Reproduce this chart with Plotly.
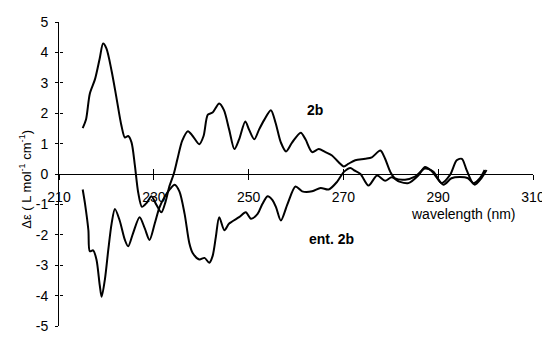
import plotly.graph_objects as go

# ---- data ----
wl_2b = [215.0, 215.7, 216.5, 217.6, 218.6, 219.3, 220.0, 221.1, 222.1, 223.2, 223.9, 224.6, 225.3,
         226.0, 226.7, 227.5, 228.5, 229.5, 230.5, 231.6, 232.5, 233.3, 234.2, 235.0, 236.0, 237.2,
         238.2, 239.6, 240.5, 241.4, 242.4, 243.8, 244.8, 245.9, 247.0, 248.0, 249.3, 250.1, 251.2,
         252.2, 253.3, 254.7, 255.7, 256.8, 257.9, 259.2, 261.0, 262.0, 263.4, 264.8, 266.2, 267.6,
         268.9, 270.1, 271.1, 272.5, 274.6, 276.0, 277.8, 278.8, 279.9, 280.9, 283.0, 285.1, 287.2,
         289.0, 290.7, 292.5, 293.9, 295.0, 296.0, 297.4, 298.8, 299.8]
de_2b = [1.51, 1.79, 2.64, 3.12, 3.81, 4.29, 4.13, 3.39, 2.53, 1.57, 1.20, 1.25, 1.04,
         0.29, -0.60, -1.08, -0.95, -0.73, -1.00, -1.26, -0.90, -0.40, 0.00, 0.50, 1.10, 1.41,
         1.25, 0.98, 1.25, 1.95, 2.02, 2.32, 2.10, 1.46, 0.82, 1.14, 1.73, 1.46, 1.14,
         1.46, 1.78, 2.10, 1.68, 1.04, 0.74, 1.04, 1.36, 1.14, 0.72, 0.82, 0.72, 0.61,
         0.40, 0.25, 0.34, 0.45, 0.50, 0.55, 0.77, 0.50, 0.07, -0.14, -0.19, -0.09, 0.18,
         0.07, -0.30, -0.03, 0.45, 0.50, 0.13, -0.30, -0.14, 0.13]

wl_ent = [215.0, 215.5, 216.2, 216.5, 217.2, 217.9, 218.6, 219.0, 219.7, 220.4, 221.1, 221.8, 222.8,
          223.9, 224.6, 225.6, 227.0, 228.1, 229.1, 230.2, 231.2, 232.3, 233.4, 234.4, 235.4, 236.5,
          237.5, 238.2, 239.6, 240.7, 241.7, 242.4, 243.1, 243.8, 244.9, 245.9, 248.0, 249.4, 250.5,
          251.9, 252.9, 254.0, 255.0, 255.8, 256.8, 258.2, 259.9, 261.3, 263.4, 265.2, 266.9, 268.7,
          270.1, 271.5, 272.2, 273.6, 275.3, 277.1, 278.8, 280.2, 281.8, 283.7, 285.8, 287.2, 288.6,
          291.1, 292.8, 294.5, 296.3, 297.7, 299.1, 300.2]
de_ent = [-0.51, -0.99, -1.85, -2.54, -2.51, -2.81, -3.66, -4.04, -3.45, -2.49, -1.63, -1.15, -1.53,
          -2.17, -2.38, -1.96, -1.42, -1.79, -2.17, -1.63, -1.10, -0.75, -0.50, -0.35, -0.57, -1.31,
          -2.28, -2.60, -2.81, -2.76, -2.92, -2.70, -2.06, -1.42, -1.85, -1.63, -1.42, -1.26, -1.47,
          -1.31, -0.99, -0.73, -0.85, -1.10, -1.53, -0.99, -0.41, -0.57, -0.57, -0.46, -0.51, -0.25,
          0.07, 0.20, 0.13, 0.00, -0.38, -0.05, -0.22, -0.11, -0.25, -0.30, -0.05, 0.23, 0.10,
          -0.35, -0.14, -0.10, -0.14, -0.35, -0.14, 0.13]

x_ticks = [210, 230, 250, 270, 290, 310]
x_tick_labels = ["210", "230", "250", "270", "290", "310"]
y_ticks = [-5, -4, -3, -2, -1, 0, 1, 2, 3, 4, 5]
y_tick_labels = ["-5", "-4", "-3", "-2", "-1", "0", "1", "2", "3", "4", "5"]

FONT = "Liberation Sans, Arial, sans-serif"

fig = go.Figure()
fig.add_trace(go.Scatter(x=wl_2b, y=de_2b, mode="lines", name="2b",
                         line=dict(color="black", width=2, shape="spline", smoothing=0.8)))
fig.add_trace(go.Scatter(x=wl_ent, y=de_ent, mode="lines", name="ent. 2b",
                         line=dict(color="black", width=2, shape="spline", smoothing=0.8)))

# page body has an 8px margin: the figure is sized so that it ends at the window edge
fig.update_layout(
    width=542, height=331,
    margin=dict(l=51, r=15, t=14, b=5),
    paper_bgcolor="white", plot_bgcolor="white",
    showlegend=False,
    font=dict(family=FONT, size=14, color="black"),
    xaxis=dict(range=[210, 310], tickvals=x_ticks, ticktext=x_tick_labels,
               showgrid=False, zeroline=False, showline=True, linecolor="black", linewidth=1,
               ticks="outside", ticklen=5, tickcolor="black", tickwidth=1,
               anchor="free", position=0.5, ticklabelstandoff=5, ticklabeloverflow="allow",
               tickfont=dict(family=FONT, size=14, color="black")),
    xaxis2=dict(range=[210, 310], overlaying="x", matches="x", tickvals=x_ticks[1:],
                showticklabels=False, showgrid=False, zeroline=False, showline=False,
                ticks="inside", ticklen=5, tickcolor="black", tickwidth=1,
                anchor="free", position=0.5),
    yaxis=dict(range=[-5, 5], tickvals=y_ticks, ticktext=y_tick_labels,
               showgrid=False, zeroline=False, showline=True, linecolor="black", linewidth=1,
               ticks="outside", ticklen=3, tickcolor="black", tickwidth=1,
               ticklabelstandoff=4, ticklabeloverflow="allow",
               tickfont=dict(family=FONT, size=14, color="black")),
    yaxis2=dict(range=[-5, 5], overlaying="y", matches="y", tickvals=y_ticks,
                showticklabels=False, showgrid=False, zeroline=False, showline=False,
                ticks="inside", ticklen=3, tickcolor="black", tickwidth=1,
                anchor="free", position=0),
    annotations=[
        dict(x=264.0, y=2.1, xref="x", yref="y", text="<b>2b</b>", showarrow=False,
             font=dict(family=FONT, size=14, color="black")),
        dict(x=267.4, y=-2.15, xref="x", yref="y", text="<b>ent. 2b</b>", showarrow=False,
             font=dict(family=FONT, size=14, color="black")),
        dict(x=295.4, y=-1.31, xref="x", yref="y", text="wavelength (nm)", showarrow=False,
             font=dict(family=FONT, size=14, color="black")),
        dict(x=-0.093, y=-0.16, xref="paper", yref="y", textangle=-90,
             text="Δε ( L mol<sup>-1</sup> cm<sup>-1</sup>)", showarrow=False,
             font=dict(family=FONT, size=13, color="black")),
    ],
)
# invisible carrier traces so the overlay axes are drawn
fig.add_trace(go.Scatter(x=[x_ticks[0]], y=[y_ticks[0]], xaxis="x2", yaxis="y2",
                         mode="markers", marker=dict(opacity=0), hoverinfo="skip", showlegend=False))

fig.write_html("out.html")
